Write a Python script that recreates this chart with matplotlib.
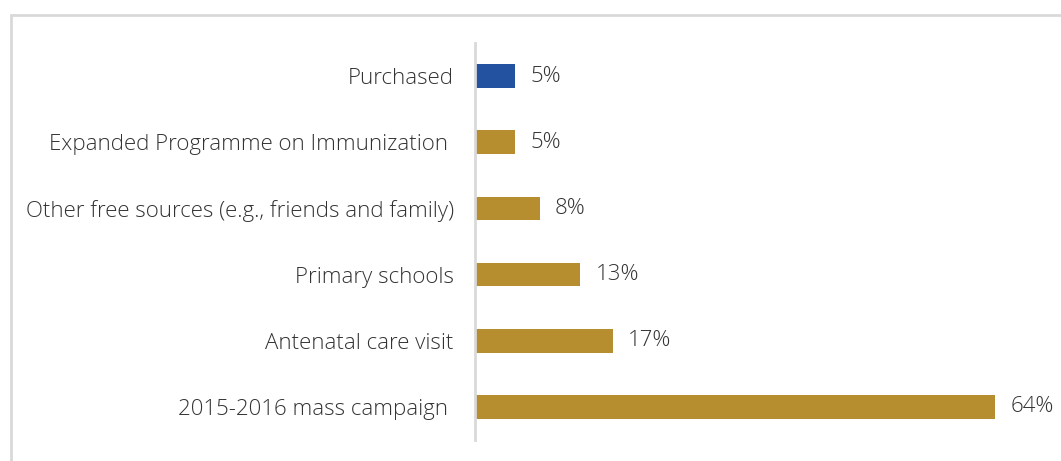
import matplotlib
matplotlib.use("Agg")
import matplotlib.pyplot as plt
from matplotlib.patches import Rectangle

categories = [
    "Purchased",
    "Expanded Programme on Immunization ",
    "Other free sources (e.g., friends and family)",
    "Primary schools",
    "Antenatal care visit",
    "2015-2016 mass campaign ",
]
values = [5, 5, 8, 13, 17, 64]
bar_colors = ["#2353A0", "#B78E2F", "#B78E2F", "#B78E2F", "#B78E2F", "#B78E2F"]

W, H, DPI = 1061, 461, 100
fig = plt.figure(figsize=(W / DPI, H / DPI), dpi=DPI)
fig.patch.set_facecolor("white")

# light frame around the chart area
fig.patches.append(Rectangle((11 / W, -0.1), 1.2, (H - 15) / H + 0.1,
                             transform=fig.transFigure, fill=False,
                             edgecolor="#D9D9D9", linewidth=2))

left, right = 474.5, 1048.5
top, bottom = 43, 440
ax = fig.add_axes([left / W, 1 - bottom / H, (right - left) / W, (bottom - top) / H])

ypos = list(range(len(categories)))
ax.barh(ypos, values, height=0.36, color=bar_colors)
ax.set_ylim(len(categories) - 0.5, -0.5)
ax.set_xlim(0, (right - left) / 8.14)

font = "Open Sans"
txt_color = "#333333"
fs = 16
ax.set_yticks(ypos)
ax.set_yticklabels(categories, fontsize=fs, color=txt_color, family=font,
                   fontweight="light")
ax.tick_params(axis="y", length=0, pad=15)
ax.set_xticks([])

for y, v in zip(ypos, values):
    ax.annotate(f"{v}%", (v, y), xytext=(15, 0), textcoords="offset pixels",
                va="center", ha="left",
                fontsize=fs, color=txt_color, family=font, fontweight="light")

for s in ["top", "right", "bottom"]:
    ax.spines[s].set_visible(False)
ax.spines["left"].set_color("#D9D9D9")
ax.spines["left"].set_linewidth(2)
ax.set_facecolor("none")

fig.savefig("out.png", dpi=DPI, facecolor="white")
